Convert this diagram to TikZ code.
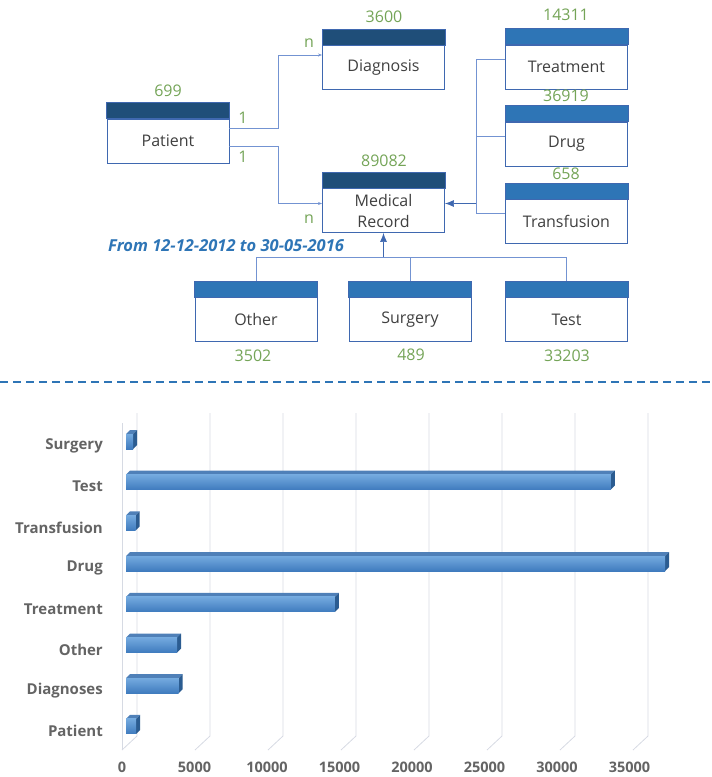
\documentclass[tikz,border=0pt]{standalone}
\usepackage{fontspec}
\setmainfont{Open Sans}
\usepackage{xcolor}
\usetikzlibrary{arrows.meta,calc,positioning}

\definecolor{navy}{HTML}{1F4E79}
\definecolor{headblue}{HTML}{2E75B6}
\definecolor{boxblue}{HTML}{3F68B0}
\definecolor{lineblue}{HTML}{7393D2}
\definecolor{numgreen}{HTML}{74A457}
\definecolor{textgray}{HTML}{404040}
\definecolor{axisgray}{HTML}{646464}
\definecolor{gridgray}{HTML}{D6DAE3}
\definecolor{barlight}{HTML}{74AADF}
\definecolor{bardark}{HTML}{3F7BBE}
\definecolor{bartop}{HTML}{4F80B8}
\definecolor{barside}{HTML}{2B5C91}

\tikzset{
  entity/.style={draw=boxblue, line width=0.9pt, fill=white, minimum width=122pt,
    minimum height=44pt, inner sep=0pt, align=center, text=textgray,
    font=\fontsize{16}{21}\selectfont},
  count/.style={text=numgreen, font=\fontsize{16}{19}\selectfont, inner sep=0pt},
  link/.style={draw=lineblue, line width=0.7pt},
  cat/.style={anchor=east, text=axisgray, font=\fontsize{15}{18}\selectfont\bfseries, inner sep=0pt},
  tick/.style={anchor=base, text=axisgray, font=\fontsize{14.5}{17}\selectfont\bfseries, inner sep=0pt},
}

\begin{document}
\begin{tikzpicture}[x=1pt, y=-1pt]
  \useasboundingbox (0,0) rectangle (712,777);

  % Entities
  \node[entity] (pat) at (168,141) {Patient};
  \node[entity] (diag) at (383.5,67.5) {Diagnosis};
  \node[entity] (med) at (383.5,210.5) {Medical\\Record};
  \node[entity] (treat) at (566.5,67) {Treatment};
  \node[entity] (drug) at (566.5,144) {Drug};
  \node[entity] (transf) at (566.5,221.5) {Transfusion};
  \node[entity] (other) at (256,319.5) {Other};
  \node[entity] (surg) at (410,319.5) {Surgery};
  \node[entity] (test) at (566.5,319.5) {Test};

  % header bars
  \foreach \n/\c in {pat/navy, diag/navy, med/navy, treat/headblue, drug/headblue,
      transf/headblue, other/headblue, surg/headblue, test/headblue}
    \draw[boxblue, line width=0.9pt, fill=\c] (\n.north west) rectangle ([yshift=16pt]\n.north east);

  % record counts
  \node[count] (patN) at (168,91) {699};
  \node[count] (diagN) at (384,17) {3600};
  \node[count] (medN) at (384,161) {89082};
  \node[count] (treatN) at (566,15) {14311};
  \node[count] (drugN) at (566,96) {36919};
  \node[count] (transfN) at (566,174) {658};
  \node[count] (otherN) at (253,356) {3502};
  \node[count] (surgN) at (411,355) {489};
  \node[count] (testN) at (567,356) {33203};

  % Patient links
  \draw[link, -{Stealth[length=4pt, width=3pt]}] ([yshift=13pt]pat.east) -- ++(49,0) |- ([yshift=12.5pt]diag.west);
  \draw[link, -{Stealth[length=4pt, width=3pt]}] ([yshift=-5pt]pat.east) -- ++(49,0) |- ([yshift=7pt]med.west);
  \node[count] (one1) at (243,118) {1};
  \node[count] (one2) at (243,157) {1};
  \node[count] (many1) at (309,43) {n};
  \node[count] (many2) at (309,219) {n};

  % right side
  \draw[link] ([yshift=8pt]treat.west) -- ++(-29,0) coordinate (busR) |- ([yshift=8pt]transf.west);
  \draw[link] ([yshift=8pt]drug.west) -- ++(-29,0);
  \draw[link, {Latex[length=9pt, width=7pt]}-, draw=boxblue] ([yshift=7pt]med.east) -- ++(31,0);

  % bottom side
  \draw[link] ([yshift=16pt]other.north) -- ++(0,-24) coordinate (busB) -| ([yshift=16pt]test.north);
  \draw[link] ([yshift=16pt]surg.north) -- (busB -| surg.north);
  \draw[link, -{Latex[length=9pt, width=7pt]}, draw=boxblue] (busB -| med.south) -- (med.south);

  \node[text=headblue, font=\fontsize{16.5}{19}\selectfont\bfseries\itshape, inner sep=0pt] (period)
    at (226,246) {From 12-12-2012 to 30-05-2016};

  % separator
  \draw[headblue, line width=1.3pt, dash pattern=on 8pt off 5pt] (0,382) -- (712,382);

  % Chart: grid
  \draw[gridgray, line width=0.8pt] (122,423) -- (122,750);
  \foreach \k in {0,...,7}
    \draw[gridgray, line width=0.8pt] (137+73*\k,413) -- (137+73*\k,736) -- (122+73*\k,750);
  \foreach \t [count=\k from 0] in {0,5000,10000,15000,20000,25000,30000,35000}
    \node[tick] (tick\k) at (122+72.5*\k,772) {\t};

  % bars (values in thousands)
  \foreach \lab/\val [count=\i from 0] in {Surgery/0.489, Test/33.203, Transfusion/0.658, Drug/36.919,
      Treatment/14.311, Other/3.502, Diagnoses/3.600, Patient/0.699} {
    \pgfmathsetmacro{\yc}{440+40.7*\i}
    \pgfmathsetmacro{\xe}{126+\val*14.6}
    \fill[bartop] (126,\yc-6) -- (130,\yc-10) -- (\xe+4,\yc-10) -- (\xe,\yc-6) -- cycle;
    \fill[barside] (\xe,\yc-6) -- (\xe+4,\yc-10) -- (\xe+4,\yc+5) -- (\xe,\yc+9) -- cycle;
    \shade[top color=barlight, bottom color=bardark] (126,\yc-6) rectangle (\xe,\yc+9);
    \node[cat] (cat\i) at (103,\yc+6) {\lab};
  }

\end{tikzpicture}
\end{document}
